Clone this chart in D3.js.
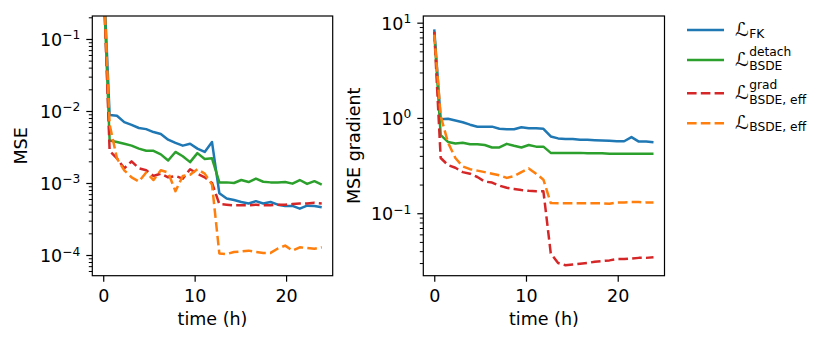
<!DOCTYPE html>
<html>
<head>
<meta charset="utf-8">
<script src="https://cdn.jsdelivr.net/npm/d3@7"></script>
<style>
  body { margin: 0; background: #fff; }
  text { font-family: "DejaVu Sans", sans-serif; fill: #000; }
</style>
</head>
<body>
<div id="chart"></div>
<script>
'use strict';

// time of each evaluation (hours)
var time = [0, 0.7, 1.5, 2.3, 3.1, 3.9, 4.7, 5.5, 6.3, 7.1, 7.9, 8.7, 9.5, 10.3, 11.1, 11.9,
            12.7, 13.5, 14.3, 15.1, 15.9, 16.7, 17.5, 18.3, 19.1, 19.9, 20.7, 21.5, 22.3, 23.1, 23.9];

// left panel: MSE
var fkMSE = [1.0, 8.8e-3, 8.6e-3, 7.0e-3, 6.4e-3, 5.8e-3, 5.6e-3, 5.1e-3, 4.8e-3, 4.0e-3, 3.6e-3,
             3.3e-3, 3.5e-3, 3.0e-3, 2.7e-3, 3.7e-3, 7.2e-4, 6.1e-4, 5.8e-4, 5.45e-4, 5.2e-4, 5.6e-4,
             5.2e-4, 5.45e-4, 5.0e-4, 4.8e-4, 4.8e-4, 4.4e-4, 4.85e-4, 4.8e-4, 4.6e-4];
var detachMSE = [0.8, 3.9e-3, 3.7e-3, 3.5e-3, 3.3e-3, 3.0e-3, 2.8e-3, 2.8e-3, 2.5e-3, 2.05e-3, 2.7e-3,
                 2.35e-3, 1.95e-3, 2.6e-3, 2.15e-3, 2.2e-3, 1.02e-3, 1.02e-3, 1.0e-3, 1.1e-3, 1.03e-3,
                 1.15e-3, 1.04e-3, 1.02e-3, 1.02e-3, 1.03e-3, 0.98e-3, 1.1e-3, 0.97e-3, 1.06e-3, 0.95e-3];
var gradEffMSE = [0.8, 2.8e-3, 2.2e-3, 1.6e-3, 2.0e-3, 1.6e-3, 1.5e-3, 1.25e-3, 1.35e-3, 1.2e-3, 1.25e-3,
                  1.15e-3, 1.55e-3, 1.35e-3, 1.2e-3, 1.0e-3, 5.1e-4, 5.0e-4, 4.9e-4, 4.9e-4, 4.9e-4,
                  5.0e-4, 4.9e-4, 4.9e-4, 5.0e-4, 5.0e-4, 5.1e-4, 5.2e-4, 5.2e-4, 5.3e-4, 5.2e-4];
var effMSE = [0.8, 6.5e-3, 2.2e-3, 1.5e-3, 1.2e-3, 1.05e-3, 1.4e-3, 1.1e-3, 1.5e-3, 1.4e-3, 7.7e-4,
              1.25e-3, 1.3e-3, 1.55e-3, 1.35e-3, 9.5e-4, 1.05e-4, 1.03e-4, 1.1e-4, 1.12e-4, 1.15e-4,
              1.1e-4, 1.07e-4, 1.07e-4, 1.23e-4, 1.35e-4, 1.15e-4, 1.28e-4, 1.25e-4, 1.22e-4, 1.28e-4];

// right panel: MSE of the gradient
var fkGrad = [8.5, 0.97, 0.98, 0.94, 0.90, 0.85, 0.81, 0.81, 0.81, 0.77, 0.76, 0.76, 0.80, 0.78, 0.78,
              0.77, 0.64, 0.61, 0.60, 0.60, 0.59, 0.59, 0.585, 0.58, 0.575, 0.57, 0.57, 0.63, 0.565, 0.565, 0.555];
var detachGrad = [8.0, 0.66, 0.56, 0.54, 0.55, 0.53, 0.53, 0.52, 0.49, 0.49, 0.535, 0.51, 0.49, 0.52, 0.50,
                  0.50, 0.43, 0.43, 0.43, 0.43, 0.43, 0.425, 0.425, 0.425, 0.42, 0.42, 0.42, 0.42, 0.42, 0.42, 0.42];
var gradEffGrad = [8.0, 0.38, 0.32, 0.30, 0.27, 0.26, 0.24, 0.215, 0.21, 0.195, 0.185, 0.18, 0.175, 0.172,
                   0.17, 0.17, 0.038, 0.030, 0.0285, 0.029, 0.0295, 0.030, 0.031, 0.0315, 0.032, 0.033,
                   0.033, 0.0335, 0.034, 0.034, 0.0345];
var effGrad = [7.5, 1.05, 0.55, 0.38, 0.31, 0.29, 0.28, 0.27, 0.26, 0.25, 0.235, 0.245, 0.27, 0.295, 0.26,
               0.225, 0.128, 0.127, 0.127, 0.127, 0.127, 0.127, 0.127, 0.127, 0.126, 0.13, 0.13, 0.131,
               0.131, 0.13, 0.13];

var xTicks = [0, 10, 20];
var mseTicks = [1e-4, 1e-3, 1e-2, 1e-1];
var gradTicks = [1e-1, 1e0, 1e1];

// legend: base symbol with sub / sup pieces
var legendSub = ['FK', 'BSDE', 'BSDE, eff', 'BSDE, eff'];
var legendSup = ['', 'detach', 'grad', ''];
var colors = ['#1f77b4', '#2ca02c', '#d62728', '#ff7f0e'];
var dashed = [false, false, true, true];

var W = 831, H = 343;
var fontSize = 17.5;

var svg = d3.select('#chart')
    .append('svg')
    .attr('width', W)
    .attr('height', H);

svg.append('rect').attr('width', W).attr('height', H).attr('fill', '#fff');

var drawPanel = function (p) {
    var x = d3.scaleLinear().domain([-1.195, 25.1]).range([p.left, p.right]);
    var y = d3.scaleLog().domain(p.ylim).range([p.bottom, p.top]);

    var clipId = 'clip-' + p.id;
    svg.append('clipPath').attr('id', clipId)
        .append('rect')
        .attr('x', p.left).attr('y', p.top)
        .attr('width', p.right - p.left).attr('height', p.bottom - p.top);

    // the lines
    var line = d3.line()
        .x(function(d) { return x(d[0]); })
        .y(function(d) { return y(d[1]); });

    var plot = svg.append('g').attr('clip-path', 'url(#' + clipId + ')');
    p.series.forEach(function (vals, i) {
        plot.append('path')
            .datum(d3.zip(time, vals))
            .attr('fill', 'none')
            .attr('stroke', colors[i])
            .attr('stroke-width', 2.5)
            .attr('stroke-linejoin', 'round')
            .attr('stroke-dasharray', dashed[i] ? '9.6,4.2' : null)
            .attr('d', line);
    });

    // x axis
    var gx = svg.append('g')
        .attr('transform', 'translate(0,' + p.bottom + ')')
        .call(d3.axisBottom(x).tickValues(xTicks).tickSize(6).tickPadding(6).tickFormat(d3.format('d')));
    gx.select('.domain').remove();
    gx.selectAll('.tick line').attr('stroke-width', 1.2);
    gx.selectAll('.tick text')
        .attr('font-size', fontSize)
        .attr('font-family', 'DejaVu Sans')
        .attr('dy', null)
        .attr('y', 26.5);

    // y axis, minor ticks first
    var lo = p.ylim[0], hi = p.ylim[1];
    var minor = [];
    for (var e = Math.floor(Math.log10(lo)); e <= Math.ceil(Math.log10(hi)); e++) {
        for (var m = 2; m <= 9; m++) {
            var v = m * Math.pow(10, e);
            if (v >= lo && v <= hi) minor.push(v);
        }
    }
    var gm = svg.append('g')
        .attr('transform', 'translate(' + p.left + ',0)')
        .call(d3.axisLeft(y).tickValues(minor).tickSize(3.5).tickFormat(''));
    gm.select('.domain').remove();
    gm.selectAll('.tick line').attr('stroke-width', 1);

    var gy = svg.append('g')
        .attr('transform', 'translate(' + p.left + ',0)')
        .call(d3.axisLeft(y).tickValues(p.yTicks).tickSize(6).tickPadding(6));
    gy.select('.domain').remove();
    gy.selectAll('.tick line').attr('stroke-width', 1.2);
    gy.selectAll('.tick text').each(function (d) {
        var t = d3.select(this);
        t.text(null)
            .attr('font-size', fontSize)
            .attr('font-family', 'DejaVu Sans')
            .attr('dy', null)
            .attr('y', 6.5);
        t.append('tspan').text('10');
        t.append('tspan')
            .attr('font-size', fontSize * 0.7)
            .attr('dy', -6.5)
            .text(String(Math.round(Math.log10(d))).replace('-', '\u2212'));
    });

    // frame
    svg.append('rect')
        .attr('x', p.left).attr('y', p.top)
        .attr('width', p.right - p.left).attr('height', p.bottom - p.top)
        .attr('fill', 'none')
        .attr('stroke', '#000')
        .attr('stroke-width', 1.2);

    // axis labels
    svg.append('text')
        .attr('x', (p.left + p.right) / 2)
        .attr('y', 325)
        .attr('text-anchor', 'middle')
        .attr('font-size', fontSize)
        .text('time (h)');

    svg.append('text')
        .attr('transform', 'translate(' + p.ylabelX + ',' + (p.top + p.bottom) / 2 + ') rotate(-90)')
        .attr('text-anchor', 'middle')
        .attr('font-size', fontSize)
        .text(p.ylabel);
};

drawPanel({
    id: 'mse', left: 92.3, right: 332.7, top: 16, bottom: 275.7,
    ylim: [5.16e-5, 0.2085], yTicks: mseTicks, ylabel: 'MSE', ylabelX: 27,
    series: [fkMSE, detachMSE, gradEffMSE, effMSE]
});

drawPanel({
    id: 'grad', left: 423.3, right: 664.5, top: 16, bottom: 275.7,
    ylim: [0.0221, 11.75], yTicks: gradTicks, ylabel: 'MSE gradient', ylabelX: 359.5,
    series: [fkGrad, detachGrad, gradEffGrad, effGrad]
});

// legend
var rowY = [30, 60, 93.3, 123.3];
var subDy = [8.3, 10, 11, 8];
var leg = svg.append('g');
legendSub.forEach(function (sub, i) {
    var cy = rowY[i];
    leg.append('line')
        .attr('x1', 687).attr('x2', 724)
        .attr('y1', cy).attr('y2', cy)
        .attr('stroke', colors[i])
        .attr('stroke-width', 2.5)
        .attr('stroke-dasharray', dashed[i] ? '9.6,4.2' : null);

    var L = leg.append('text')
        .attr('x', 735).attr('y', cy + 5.5)
        .attr('font-size', 19)
        .text('\u2112');
    var sx = 735 + L.node().getComputedTextLength() + 0.5;

    leg.append('text')
        .attr('x', sx).attr('y', cy + subDy[i])
        .attr('font-size', fontSize * 0.7)
        .text(sub);
    if (legendSup[i]) {
        leg.append('text')
            .attr('x', sx).attr('y', cy - 4.5)
            .attr('font-size', fontSize * 0.7)
            .text(legendSup[i]);
    }
});
</script>
</body>
</html>
